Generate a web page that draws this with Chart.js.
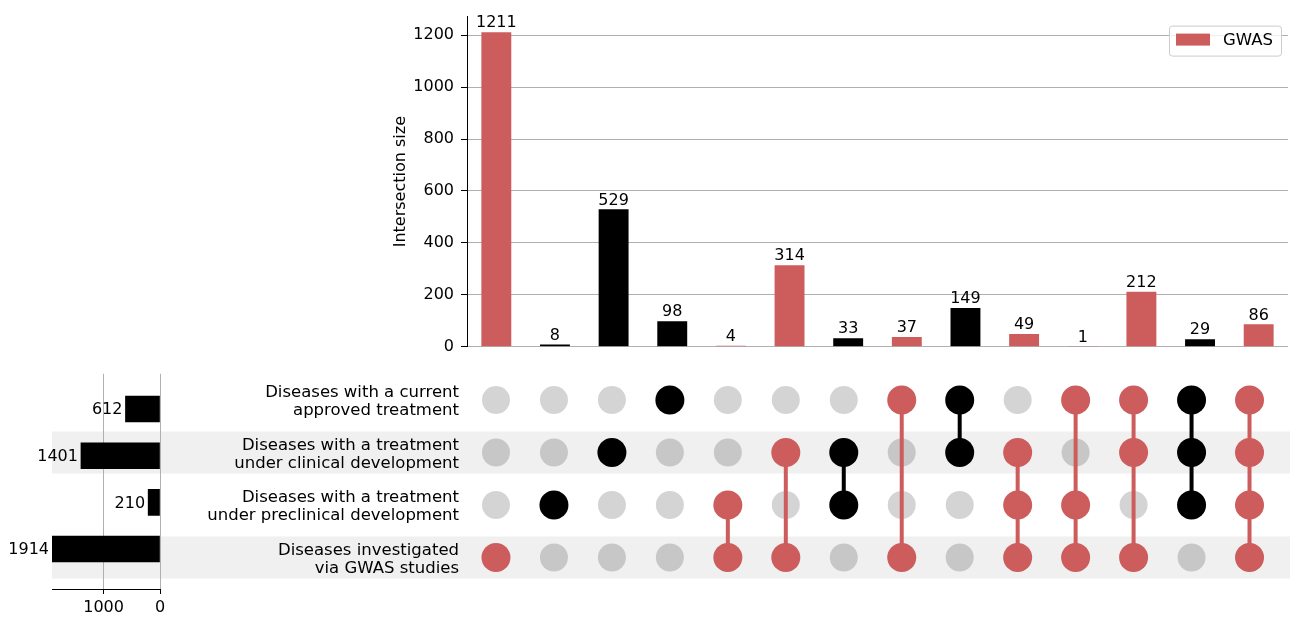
<!DOCTYPE html>
<html>
<head>
<meta charset="utf-8">
<script src="https://cdn.jsdelivr.net/npm/chart.js@4.4.1/dist/chart.umd.min.js"></script>
<style>
  html, body { margin: 0; padding: 0; background: #ffffff; }
  #wrap { position: relative; width: 1293px; height: 617px; overflow: hidden; }
  #wrap canvas { position: absolute; left: 0; top: 0; pointer-events: none; }
</style>
</head>
<body>
<div id="wrap">
  <canvas id="matrix" width="1293" height="617"></canvas>
  <canvas id="sets" width="1293" height="617"></canvas>
  <canvas id="bars" width="1293" height="617"></canvas>
</div>
<script>
// ---- data ----
const setNames = [
  ["Diseases with a current", "approved treatment"],
  ["Diseases with a treatment", "under clinical development"],
  ["Diseases with a treatment", "under preclinical development"],
  ["Diseases investigated", "via GWAS studies"]
];
const setSizes = [612, 1401, 210, 1914];
const gwasSet = 3;
const legendLabel = "GWAS";

// each intersection: which sets (row indices) it belongs to
const memberships = [
  [3], [2], [1], [0], [2, 3], [1, 3], [1, 2], [0, 3],
  [0, 1], [1, 2, 3], [0, 2, 3], [0, 1, 3], [0, 1, 2], [0, 1, 2, 3]
];
const intersectionSizes = [1211, 8, 529, 98, 4, 314, 33, 37, 149, 49, 1, 212, 29, 86];

const sizeTicks = [0, 200, 400, 600, 800, 1000, 1200];
const setSizeTicks = [0, 1000];

// ---- style ----
const RED = '#cd5c5c';
const BLACK = '#000000';
const GRID = '#b0b0b0';
const BAND = '#f0f0f0';
const FONT = "'DejaVu Sans', sans-serif";
const PLOT_LEFT = 467, PLOT_RIGHT = 1288;
const PLOT_TOP = 15, PLOT_BOTTOM = 346.7;
const MATRIX_TOP = 373.75, MATRIX_BOTTOM = 589;
const SETS_LEFT = 52, BAND_RIGHT = 1290;

Chart.defaults.font.family = FONT;
Chart.defaults.font.size = 16;
Chart.defaults.color = '#000';
Chart.defaults.animation = false;
Chart.defaults.responsive = false;
Chart.defaults.devicePixelRatio = 1;
Chart.defaults.plugins.legend.display = false;
Chart.defaults.plugins.tooltip.enabled = false;

const isGwas = memberships.map(m => m.includes(gwasSet));
const colColor = isGwas.map(g => g ? RED : BLACK);
const labels = intersectionSizes.map((_, i) => String(i));
const rowIdx = setNames.map((_, i) => i);
const plainNumber = v => String(v);

// ---- intersection size bars ----
const barLabelPlugin = {
  id: 'barLabels',
  afterDatasetsDraw(chart) {
    const { ctx } = chart;
    const meta = chart.getDatasetMeta(0);
    ctx.save();
    ctx.font = '16px ' + FONT;
    ctx.fillStyle = '#000';
    ctx.textAlign = 'center';
    ctx.textBaseline = 'bottom';
    meta.data.forEach((bar, i) => {
      ctx.fillText(String(intersectionSizes[i]), bar.x, bar.y - 1);
    });
    ctx.restore();
  },
  afterDraw(chart) {
    // legend box in the upper right corner of the plot
    const { ctx, chartArea } = chart;
    const w = 112, h = 30;
    const x = chartArea.right - 7 - w, y = chartArea.top + 9;
    ctx.save();
    ctx.beginPath();
    ctx.roundRect(x + 0.5, y + 0.5, w, h, 3);
    ctx.fillStyle = 'rgba(255,255,255,0.8)';
    ctx.fill();
    ctx.strokeStyle = '#cccccc';
    ctx.lineWidth = 1;
    ctx.stroke();
    ctx.fillStyle = RED;
    ctx.fillRect(x + 7, y + 8, 34, 12);
    ctx.fillStyle = '#000';
    ctx.font = '16.5px ' + FONT;
    ctx.textAlign = 'left';
    ctx.textBaseline = 'middle';
    ctx.fillText(legendLabel, x + 54, y + 15);
    ctx.restore();
  }
};

new Chart(document.getElementById('bars'), {
  type: 'bar',
  data: {
    labels: labels,
    datasets: [{
      label: legendLabel,
      data: intersectionSizes,
      backgroundColor: colColor,
      borderWidth: 0,
      barPercentage: 0.51,
      categoryPercentage: 1.0
    }]
  },
  options: {
    layout: { padding: { left: PLOT_LEFT - 80, right: 1293 - PLOT_RIGHT, top: PLOT_TOP, bottom: 617 - PLOT_BOTTOM } },
    scales: {
      x: { display: false, offset: true },
      y: {
        min: 0,
        max: 1271.55,
        afterFit(scale) { scale.width = 80; },
        afterBuildTicks(scale) { scale.ticks = sizeTicks.map(v => ({ value: v })); },
        ticks: { font: { size: 16 }, padding: 7, color: '#000', callback: plainNumber },
        grid: { color: GRID, tickColor: '#000', tickLength: 6, lineWidth: 1 },
        border: { color: '#000', width: 1 },
        title: { display: true, text: 'Intersection size', font: { size: 16 }, color: '#000' }
      }
    }
  },
  plugins: [barLabelPlugin]
});

// ---- set size bars ----
const setLabelPlugin = {
  id: 'setLabels',
  afterDatasetsDraw(chart) {
    const { ctx } = chart;
    const meta = chart.getDatasetMeta(0);
    ctx.save();
    ctx.font = '16px ' + FONT;
    ctx.fillStyle = '#000';
    ctx.textAlign = 'right';
    ctx.textBaseline = 'middle';
    meta.data.forEach((bar, i) => {
      ctx.fillText(String(setSizes[i]), bar.x - 3, bar.y + 1);
    });
    ctx.restore();
  }
};

new Chart(document.getElementById('sets'), {
  type: 'bar',
  data: {
    datasets: [{
      data: setSizes.map((v, i) => ({ x: v, y: i })),
      backgroundColor: BLACK,
      borderWidth: 0,
      barThickness: 26
    }]
  },
  options: {
    indexAxis: 'y',
    layout: { padding: { left: SETS_LEFT, right: 1293 - 160, top: MATRIX_TOP, bottom: 0 } },
    scales: {
      y: { type: 'linear', display: false, reverse: true, min: -0.5, max: 3.6 },
      x: {
        type: 'linear',
        reverse: true,
        min: 0,
        max: 1914,
        z: 1,
        afterFit(scale) { scale.height = 617 - MATRIX_BOTTOM; },
        afterBuildTicks(scale) { scale.ticks = setSizeTicks.map(v => ({ value: v })); },
        ticks: { font: { size: 16 }, padding: 4, color: '#000', callback: plainNumber },
        grid: { color: GRID, tickColor: '#000', tickLength: 5, lineWidth: 1 },
        border: { color: '#000', width: 1 }
      }
    }
  },
  plugins: [setLabelPlugin]
});

// ---- membership matrix ----
const bandPlugin = {
  id: 'rowBands',
  beforeDraw(chart) {
    const { ctx } = chart;
    const y = chart.scales.y;
    ctx.save();
    ctx.fillStyle = BAND;
    rowIdx.filter(r => r % 2 === 1).forEach(r => {
      const y0 = y.getPixelForValue(r - 0.4);
      const y1 = y.getPixelForValue(r + 0.4);
      ctx.fillRect(SETS_LEFT, Math.min(y0, y1), BAND_RIGHT - SETS_LEFT, Math.abs(y1 - y0));
    });
    ctx.restore();
  }
};

const emptyCells = [];
const filledCells = [];
const filledColors = [];
memberships.forEach((m, c) => {
  rowIdx.forEach(r => {
    if (m.includes(r)) {
      filledCells.push({ x: c, y: r });
      filledColors.push(colColor[c]);
    } else {
      emptyCells.push({ x: c, y: r });
    }
  });
});

const connectorSets = memberships
  .map((m, c) => ({ m, c }))
  .filter(o => o.m.length > 1)
  .map(o => ({
    type: 'line',
    data: [{ x: o.c, y: Math.min(...o.m) }, { x: o.c, y: Math.max(...o.m) }],
    borderColor: colColor[o.c],
    borderWidth: 4,
    pointRadius: 0,
    showLine: true,
    order: 2
  }));

new Chart(document.getElementById('matrix'), {
  type: 'scatter',
  data: {
    datasets: [
      {
        data: emptyCells,
        pointRadius: 14,
        pointBackgroundColor: 'rgba(0,0,0,0.17)',
        pointBorderWidth: 0,
        order: 3
      },
      ...connectorSets,
      {
        data: filledCells,
        pointRadius: 14.5,
        pointBackgroundColor: filledColors,
        pointBorderWidth: 0,
        order: 1
      }
    ]
  },
  options: {
    layout: { padding: { left: PLOT_LEFT - 300, right: 1293 - PLOT_RIGHT, top: MATRIX_TOP, bottom: 617 - MATRIX_BOTTOM } },
    scales: {
      x: { type: 'linear', display: false, min: -0.5, max: intersectionSizes.length - 0.5 },
      y: {
        type: 'linear',
        reverse: true,
        min: -0.5,
        max: 3.6,
        afterFit(scale) { scale.width = 300; },
        afterBuildTicks(scale) { scale.ticks = rowIdx.map(v => ({ value: v })); },
        ticks: {
          callback: v => setNames[v],
          font: { size: 16.5, lineHeight: 1.1 },
          padding: 8,
          labelOffset: 2,
          color: '#000'
        },
        grid: { display: false, drawTicks: false },
        border: { display: false }
      }
    }
  },
  plugins: [bandPlugin]
});
</script>
</body>
</html>
